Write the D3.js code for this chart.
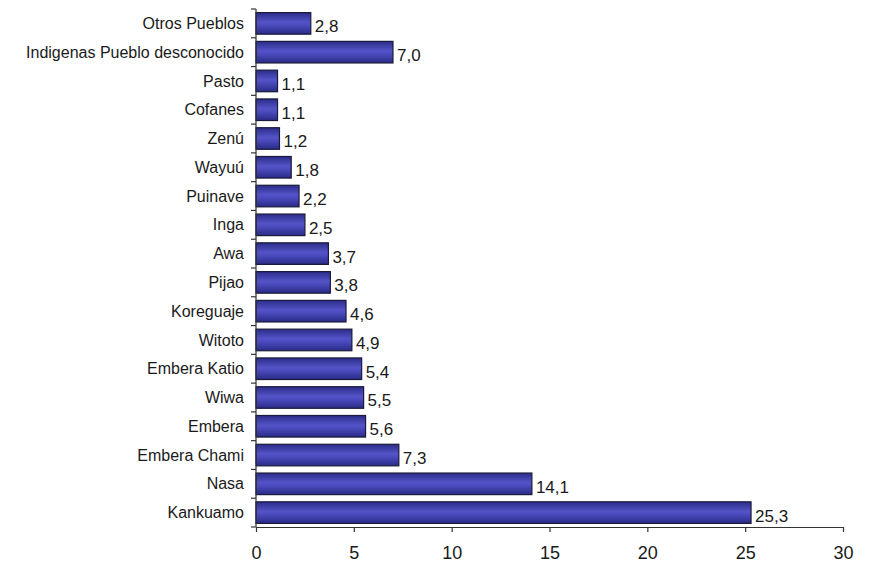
<!DOCTYPE html>
<html lang="es">
<head>
  <meta charset="UTF-8">
  <title>Pueblos indígenas</title>
  <script src="https://d3js.org/d3.v7.min.js"></script>
  <style>
    html, body { margin: 0; padding: 0; background: #fff; }
    svg { display: block; font-family: "Liberation Sans", Arial, sans-serif; }
    .cat-label { font-size: 16px; fill: #1a1a1a; text-anchor: end; }
    .val-label { font-size: 17px; fill: #1a1a1a; }
    .axis path, .axis line { stroke: #333; stroke-width: 1.2; }
    .axis text { font-size: 18px; fill: #1a1a1a; font-family: "Liberation Sans", Arial, sans-serif; }
  </style>
</head>
<body>
<svg width="869" height="581"></svg>
<script>
const categories = ["Otros Pueblos", "Indigenas Pueblo desconocido", "Pasto", "Cofanes", "Zenú",
  "Wayuú", "Puinave", "Inga", "Awa", "Pijao", "Koreguaje", "Witoto", "Embera Katio",
  "Wiwa", "Embera", "Embera Chami", "Nasa", "Kankuamo"];
const values = [2.8, 7.0, 1.1, 1.1, 1.2, 1.8, 2.2, 2.5, 3.7, 3.8, 4.6, 4.9, 5.4, 5.5, 5.6, 7.3, 14.1, 25.3];
const xTicks = [0, 5, 10, 15, 20, 25, 30];

const data = categories.map((c, i) => ({name: c, value: values[i]}));

const svg = d3.select("svg");
const plotLeft = 256, plotRight = 843, plotTop = 9, plotBottom = 527;

const x = d3.scaleLinear().domain([0, 30]).range([plotLeft, plotRight]);
const y = d3.scaleBand().domain(categories).range([plotTop, plotBottom])
  .paddingInner(0.25).paddingOuter(0.125);

// gradient for the bars
const defs = svg.append("defs");
const grad = defs.append("linearGradient").attr("id", "barGrad")
  .attr("x1", 0).attr("y1", 0).attr("x2", 0).attr("y2", 1);
grad.append("stop").attr("offset", "0%").attr("stop-color", "#2c2c8a");
grad.append("stop").attr("offset", "45%").attr("stop-color", "#5454c8");
grad.append("stop").attr("offset", "60%").attr("stop-color", "#4a4abd");
grad.append("stop").attr("offset", "100%").attr("stop-color", "#2a2a85");

svg.selectAll(".bar")
  .data(data)
  .enter().append("rect")
  .attr("class", "bar")
  .attr("x", x(0))
  .attr("y", d => y(d.name))
  .attr("width", d => x(d.value) - x(0))
  .attr("height", y.bandwidth())
  .attr("fill", "url(#barGrad)")
  .attr("stroke", "#1a1a3a")
  .attr("stroke-width", 1.2);

// value labels
const fmt = v => d3.format(".1f")(v).replace(".", ",");
svg.selectAll(".val-label")
  .data(data)
  .enter().append("text")
  .attr("class", "val-label")
  .attr("x", d => x(d.value) + 4)
  .attr("y", d => y(d.name) + y.bandwidth() / 2 + 3)
  .attr("dy", "0.35em")
  .text(d => fmt(d.value));

// category labels
svg.selectAll(".cat-label")
  .data(data)
  .enter().append("text")
  .attr("class", "cat-label")
  .attr("x", plotLeft - 12)
  .attr("y", d => y(d.name) + y.bandwidth() / 2)
  .attr("dy", "0.35em")
  .text(d => d.name);

// y axis: vertical line with ticks at band boundaries
const yAxis = svg.append("g").attr("class", "axis");
yAxis.append("line")
  .attr("x1", x(0)).attr("x2", x(0))
  .attr("y1", y.range()[0]).attr("y2", y.range()[1]);
yAxis.selectAll(".ytick")
  .data(d3.range(categories.length + 1))
  .enter().append("line")
  .attr("class", "ytick")
  .attr("x1", x(0) - 5).attr("x2", x(0))
  .attr("y1", i => y.range()[0] + i * y.step())
  .attr("y2", i => y.range()[0] + i * y.step());

// x axis
svg.append("g")
  .attr("class", "axis")
  .attr("transform", `translate(0,${plotBottom})`)
  .call(d3.axisBottom(x).tickValues(xTicks).tickSize(5).tickPadding(18).tickSizeOuter(0))
  .call(g => g.selectAll("text").attr("dy", "0.5em"));
</script>
</body>
</html>
